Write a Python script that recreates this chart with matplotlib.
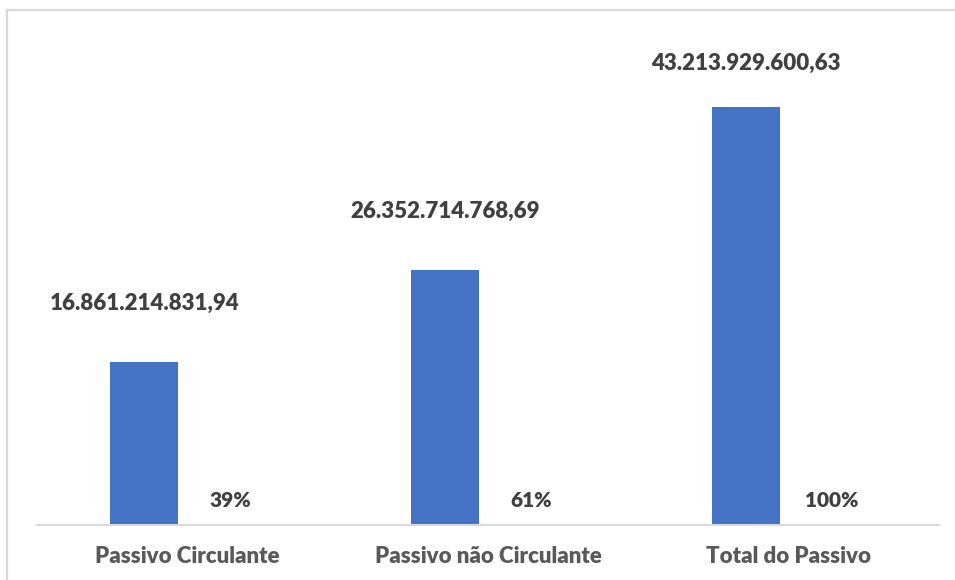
import matplotlib.pyplot as plt
from matplotlib.lines import Line2D

# passivo: valores em R$ e participação no total
categorias = ['Passivo Circulante', 'Passivo não Circulante', 'Total do Passivo']
valores = [16861214831.94, 26352714768.69, 43213929600.63]
participacao = [0.39, 0.61, 1.00]


def fmt_brl(v):
	s = '{:,.2f}'.format(v)
	return s.replace(',', '_').replace('.', ',').replace('_', '.')


plt.rcParams['font.family'] = ['Lato', 'DejaVu Sans']

fig = plt.figure(figsize=(9.55, 5.8), dpi=100)
fig.patch.set_facecolor('white')

# moldura do gráfico (só topo e esquerda aparecem)
fig.add_artist(Line2D([7/955, 7/955], [0, 1 - 10/580], transform=fig.transFigure,
					  color='#d9d9d9', lw=1.6))
fig.add_artist(Line2D([7/955, 1], [1 - 10/580, 1 - 10/580], transform=fig.transFigure,
					  color='#d9d9d9', lw=1.6))

ax = fig.add_axes([37/955, 55/580, 902/955, 464/580])
ax.set_xlim(-0.5, 2.5)
ax.set_ylim(0, 48e9)

x = list(range(len(categorias)))
desloc = 0.143
larg = 0.226

ax.bar([i - desloc for i in x], valores, width=larg, color='#4472C4', zorder=2)
ax.bar([i + desloc for i in x], participacao, width=larg, color='#ED7D31', zorder=2)

# rótulos de valor acima das barras
offsets_valor = [59, 59, 44]
for i, v, off in zip(x, valores, offsets_valor):
	ax.annotate(fmt_brl(v), xy=(i - desloc, v), xytext=(0, off * 0.72),
				textcoords='offset points', ha='center', va='center',
				fontsize=16, fontweight='heavy', color='#404040')

# rótulos de percentual junto à base
for i, p in zip(x, participacao):
	ax.annotate('{:.0f}%'.format(p * 100), xy=(i + desloc, p), xytext=(0, 24 * 0.72),
				textcoords='offset points', ha='center', va='center',
				fontsize=15, fontweight='heavy', color='#404040')

for s in ['top', 'right', 'left']:
	ax.spines[s].set_visible(False)
ax.spines['bottom'].set_color('#d9d9d9')
ax.spines['bottom'].set_linewidth(1.5)
ax.set_yticks([])
ax.set_xticks(x)
ax.set_xticklabels(categorias, fontsize=16, fontweight='heavy', color='#595959')
ax.tick_params(axis='x', length=0, pad=15)

fig.savefig('out.png', dpi=100, facecolor='white')
